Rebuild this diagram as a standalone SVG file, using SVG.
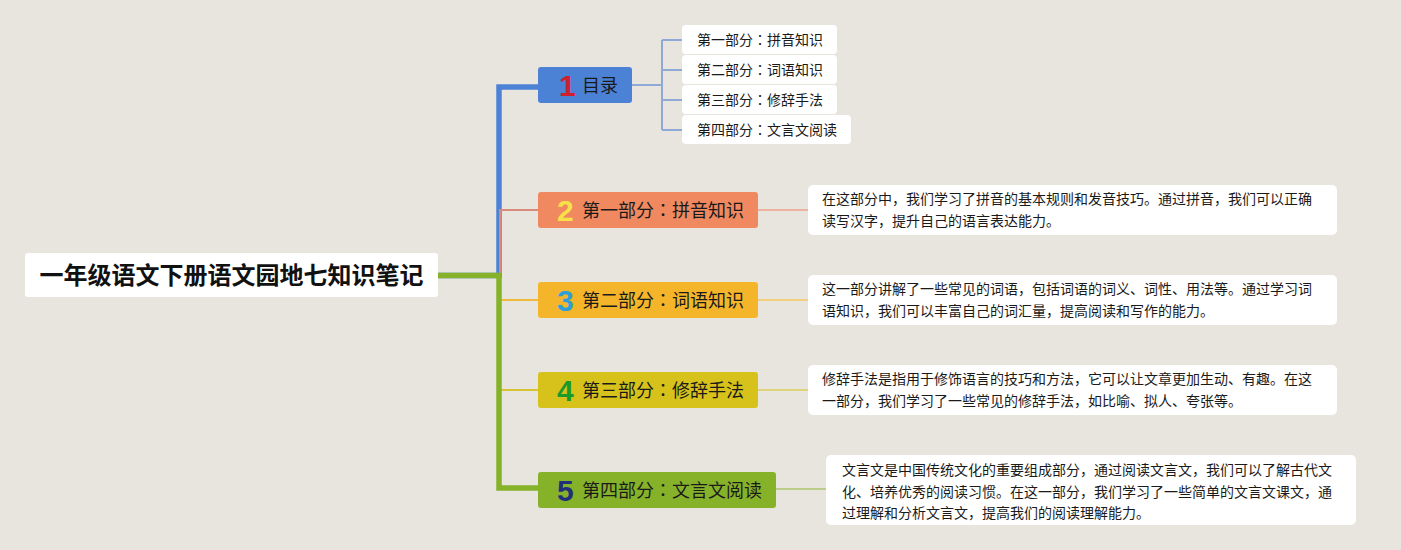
<svg xmlns="http://www.w3.org/2000/svg" width="1401" height="550" viewBox="0 0 1401 550">
<style>
.cjk{font-family:"Noto Sans CJK SC","Noto Sans",sans-serif;}
.col{font-family:"Noto Sans CJK TC","Noto Sans CJK SC",sans-serif;}
.box{fill:#ffffff;}
.sub{font-size:14px;fill:#1a1a1a;}
.desc{font-size:14px;fill:#1a1a1a;}
.lbl{font-size:18px;fill:#1a1a1a;}
.num{font-family:"Liberation Sans",Arial,sans-serif;font-weight:bold;font-size:30px;}
.thin{fill:none;stroke-width:2;}
.thick{fill:none;stroke-width:5.5;}
</style>
<rect x="0" y="0" width="1401" height="550" fill="#e7e5de"/>
<g id="connectors">
<path class="thick" d="M438,275.5 H499 V87 H538" stroke="#4c82d6"/>
<path class="thin" d="M438,275.5 H500 V210 H538" stroke="#d98a7a"/>
<path class="thin" d="M438,275.5 H500 V300 H538" stroke="#f0bb3a"/>
<path class="thin" d="M438,275.5 H500 V390 H538" stroke="#d6c430"/>
<path class="thick" d="M438,275.5 H499 V488 H538" stroke="#86b22a"/>
<path class="thin" d="M632,85 H662 M662,40 V130 M662,40 H682 M662,70 H682 M662,100 H682 M662,130 H682" stroke="#8fa9d6" stroke-width="1.5"/>
<path class="thin" d="M758,210 H808" stroke="#eeb2a0" stroke-width="1.5"/>
<path class="thin" d="M758,300 H808" stroke="#f1cf7e" stroke-width="1.5"/>
<path class="thin" d="M758,390 H808" stroke="#e0d47a" stroke-width="1.5"/>
<path class="thin" d="M776,489 H826" stroke="#bccc8a" stroke-width="1.5"/>
</g>
<g id="root">
<rect x="25" y="253" width="413" height="44" rx="3" class="box"/>
<text x="231.5" y="284" text-anchor="middle" class="cjk" font-size="24" font-weight="bold" fill="#111">一年级语文下册语文园地七知识笔记</text>
</g>
<g id="node1">
<rect x="538" y="67" width="94" height="36" rx="3" fill="#4c82d6"/>
<text x="559" y="96" class="num" fill="#d0202e">1</text>
<text x="582" y="91.5" class="cjk lbl">目录</text>
</g>
<g id="sub1">
<rect x="682" y="25" width="155" height="29" rx="4" class="box"/>
<text x="697" y="45" class="cjk sub">第一部分<tspan class="col">：</tspan>拼音知识</text>
</g>
<g id="sub2">
<rect x="682" y="55" width="155" height="29" rx="4" class="box"/>
<text x="697" y="75" class="cjk sub">第二部分<tspan class="col">：</tspan>词语知识</text>
</g>
<g id="sub3">
<rect x="682" y="85" width="155" height="29" rx="4" class="box"/>
<text x="697" y="105" class="cjk sub">第三部分<tspan class="col">：</tspan>修辞手法</text>
</g>
<g id="sub4">
<rect x="682" y="115" width="169" height="29" rx="4" class="box"/>
<text x="697" y="135" class="cjk sub">第四部分<tspan class="col">：</tspan>文言文阅读</text>
</g>
<g id="node2">
<rect x="538" y="192" width="220" height="36" rx="3" fill="#f08860"/>
<text x="557" y="221" class="num" fill="#f7e04a">2</text>
<text x="582" y="216.5" class="cjk lbl">第一部分<tspan class="col">：</tspan>拼音知识</text>
</g>
<g id="desc2">
<rect x="808" y="185" width="529" height="50" rx="5" class="box"/>
<text x="822" y="204" class="cjk desc">在这部分中，我们学习了拼音的基本规则和发音技巧。通过拼音，我们可以正确</text>
<text x="822" y="226" class="cjk desc">读写汉字，提升自己的语言表达能力。</text>
</g>
<g id="node3">
<rect x="538" y="282" width="220" height="36" rx="3" fill="#f4b52a"/>
<text x="557" y="311" class="num" fill="#2d9fd8">3</text>
<text x="582" y="306.5" class="cjk lbl">第二部分<tspan class="col">：</tspan>词语知识</text>
</g>
<g id="desc3">
<rect x="808" y="275" width="529" height="50" rx="5" class="box"/>
<text x="822" y="294" class="cjk desc">这一部分讲解了一些常见的词语，包括词语的词义、词性、用法等。通过学习词</text>
<text x="822" y="316" class="cjk desc">语知识，我们可以丰富自己的词汇量，提高阅读和写作的能力。</text>
</g>
<g id="node4">
<rect x="538" y="372" width="220" height="36" rx="3" fill="#d6c21a"/>
<text x="557" y="401" class="num" fill="#1a9a2a">4</text>
<text x="582" y="396.5" class="cjk lbl">第三部分<tspan class="col">：</tspan>修辞手法</text>
</g>
<g id="desc4">
<rect x="808" y="365" width="529" height="50" rx="5" class="box"/>
<text x="822" y="384" class="cjk desc">修辞手法是指用于修饰语言的技巧和方法，它可以让文章更加生动、有趣。在这</text>
<text x="822" y="406" class="cjk desc">一部分，我们学习了一些常见的修辞手法，如比喻、拟人、夸张等。</text>
</g>
<g id="node5">
<rect x="538" y="472" width="238" height="36" rx="3" fill="#86b22a"/>
<text x="557" y="501" class="num" fill="#1f2f7a">5</text>
<text x="582" y="496.5" class="cjk lbl">第四部分<tspan class="col">：</tspan>文言文阅读</text>
</g>
<g id="desc5">
<rect x="826" y="455" width="530" height="70" rx="5" class="box"/>
<text x="842" y="475" class="cjk desc">文言文是中国传统文化的重要组成部分，通过阅读文言文，我们可以了解古代文</text>
<text x="842" y="497" class="cjk desc">化、培养优秀的阅读习惯。在这一部分，我们学习了一些简单的文言文课文，通</text>
<text x="842" y="518" class="cjk desc">过理解和分析文言文，提高我们的阅读理解能力。</text>
</g>
</svg>
